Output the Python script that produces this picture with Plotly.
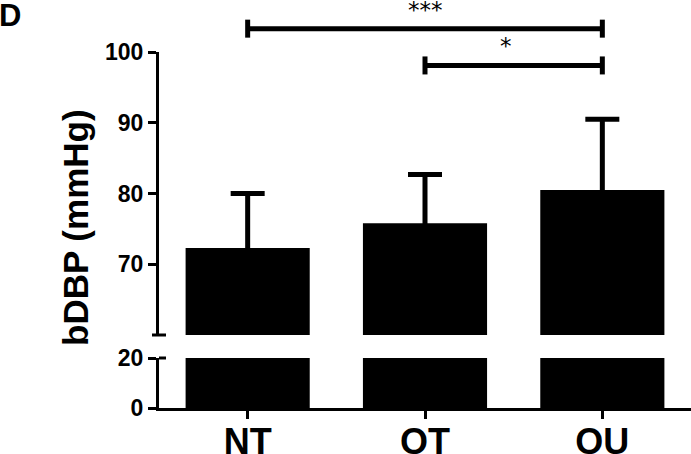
import plotly.graph_objects as go

# ---- data ----
groups = ["NT", "OT", "OU"]
means = [72.3, 75.8, 80.5]
sd = [7.7, 6.9, 10.0]
sig_pairs = [(0, 2), (1, 2)]
sig_labels = ["***", "*"]
sig_heights = [103.3, 98.1]   # in mmHg units of the upper axis
lower_ticks = [0, 20]
upper_ticks = [70, 80, 90, 100]

# ---- layout geometry ----
W, H = 691, 454
ML, MR, MT, MB = 159, 0, 52, 46
PW, PH = W - ML - MR, H - MT - MB
LOW_RANGE = [0, 20]
UP_RANGE = [60, 100]
low_dom = [0, 50 / PH]
up_dom = [73 / PH, 1]

def y2_to_paper(v):
    return up_dom[0] + (v - UP_RANGE[0]) / (UP_RANGE[1] - UP_RANGE[0]) * (up_dom[1] - up_dom[0])

def x_to_paper(i):
    return (i + 0.5) / len(groups)

BOLD = dict(family="Liberation Sans, Arial, sans-serif", color="black", weight="bold")

fig = go.Figure()
fig.add_trace(go.Bar(x=groups, y=means, width=0.7, marker=dict(color="black", line=dict(width=0)),
                     xaxis="x", yaxis="y", hoverinfo="skip"))
# lower arm kept tiny so that its cap stays hidden inside the black bar
fig.add_trace(go.Bar(x=groups, y=means, width=0.7, marker=dict(color="black", line=dict(width=0)),
                     error_y=dict(type="data", symmetric=False, array=sd, arrayminus=[1.2] * len(sd),
                                  color="black", thickness=5, width=17),
                     xaxis="x", yaxis="y2", hoverinfo="skip"))

axis_common = dict(showline=True, linecolor="black", linewidth=3, ticks="outside",
                   ticklen=8, tickwidth=3, tickcolor="black", showgrid=False, zeroline=False,
                   automargin=False)

fig.update_layout(
    width=W, height=H, margin=dict(l=ML, r=MR, t=MT, b=MB, autoexpand=False),
    paper_bgcolor="white", plot_bgcolor="white", showlegend=False, barmode="overlay",
    xaxis=dict(**axis_common, anchor="y", range=[-0.5, 2.5], ticklabelstandoff=-8,
               tickfont=dict(size=36, **BOLD)),
    yaxis=dict(**axis_common, domain=low_dom, range=LOW_RANGE, tickvals=lower_ticks,
               tickfont=dict(size=23, **BOLD), anchor="x"),
    yaxis2=dict(**axis_common, domain=up_dom, range=UP_RANGE, tickvals=upper_ticks,
                tickfont=dict(size=23, **BOLD), anchor="x"),
)

shapes = []
annotations = []
# axis break caps
cap_dx = 7 / PW
shapes.append(dict(type="line", xref="paper", yref="paper", x0=-cap_dx, x1=cap_dx,
                   y0=up_dom[0], y1=up_dom[0], line=dict(color="black", width=3)))
shapes.append(dict(type="line", xref="paper", yref="paper", x0=0, x1=cap_dx,
                   y0=low_dom[1], y1=low_dom[1], line=dict(color="black", width=3)))

# significance brackets
tick_h = 9 / PH
for (a, b), lab, hgt in zip(sig_pairs, sig_labels, sig_heights):
    yp = y2_to_paper(hgt)
    xa, xb = x_to_paper(a), x_to_paper(b)
    shapes.append(dict(type="line", xref="paper", yref="paper", x0=xa, x1=xb, y0=yp, y1=yp,
                       line=dict(color="black", width=5)))
    for xx in (xa, xb):
        shapes.append(dict(type="line", xref="paper", yref="paper", x0=xx, x1=xx,
                           y0=yp - tick_h, y1=yp + tick_h, line=dict(color="black", width=5)))
    annotations.append(dict(xref="paper", yref="paper", x=(xa + xb) / 2, y=yp + 19 / PH,
                            text=lab, showarrow=False, yanchor="middle",
                            font=dict(family="DejaVu Sans, sans-serif", size=23, color="black")))

# y-axis title
annotations.append(dict(xref="paper", yref="paper", x=(75 - ML) / PW, y=(H - MB - 228) / PH,
                        text="bDBP (mmHg)", textangle=-90, showarrow=False,
                        xanchor="center", yanchor="middle", font=dict(size=35, **BOLD)))
# panel letter
annotations.append(dict(xref="paper", yref="paper", x=(-3 - ML) / PW, y=(H - MB + 4) / PH,
                        text="D", showarrow=False, xanchor="left", yanchor="top",
                        font=dict(size=31, **BOLD)))

fig.update_layout(shapes=shapes, annotations=annotations)
fig.write_html("out.html", config={"displayModeBar": False, "staticPlot": True},
               post_script="document.body.style.margin='0';")
